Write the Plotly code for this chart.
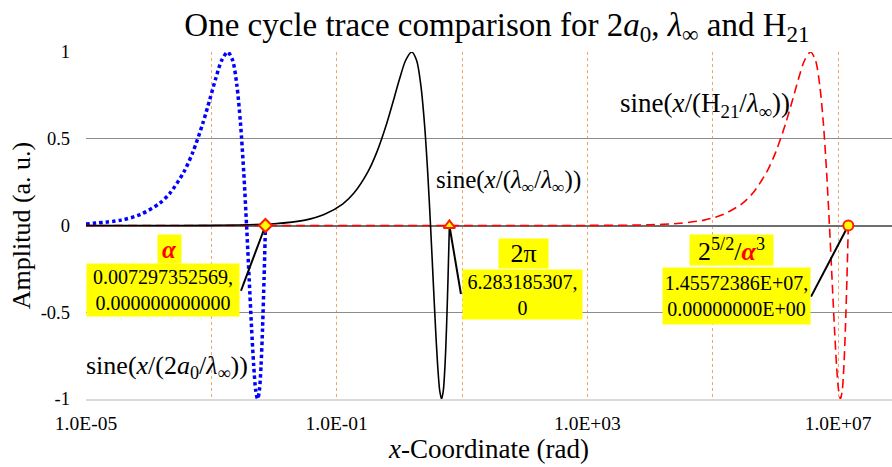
import math
import plotly.graph_objects as go

# ---------------- data ----------------
# blue dotted: sine(x/(2a0/λ∞)), one cycle ending at alpha
blue_x = [1.0e-5, 3.65e-5, 7.30e-5, 1.46e-4, 2.19e-4, 3.65e-4, 5.11e-4, 7.30e-4,
          9.49e-4, 1.168e-3, 1.459e-3, 1.824e-3, 2.189e-3, 2.554e-3, 2.919e-3,
          3.284e-3, 3.649e-3, 4.014e-3, 4.378e-3, 4.743e-3, 5.108e-3, 5.473e-3,
          5.838e-3, 6.203e-3, 6.568e-3, 6.932e-3, 7.297e-3]
blue_y = [0.009, 0.031, 0.063, 0.125, 0.187, 0.309, 0.426, 0.588, 0.729, 0.844,
          0.951, 1.0, 0.951, 0.809, 0.588, 0.309, 0.0, -0.309, -0.588, -0.809,
          -0.951, -1.0, -0.951, -0.809, -0.588, -0.309, 0.0]

# black solid: sine(x/(λ∞/λ∞)), one cycle ending at 2π
black_x = [1.0e-5, 1.0e-4, 1.0e-3, 1.0e-2, 0.0314, 0.0628, 0.1257, 0.1885, 0.3142,
           0.4398, 0.6283, 0.8168, 1.0053, 1.2566, 1.5708, 1.885, 2.1991, 2.5133,
           2.8274, 3.1416, 3.4558, 3.7699, 4.0841, 4.3982, 4.7124, 5.0265, 5.3407,
           5.6549, 5.969, 6.2832]
black_y = [0.0, 0.0001, 0.001, 0.01, 0.031, 0.063, 0.125, 0.187, 0.309, 0.426,
           0.588, 0.729, 0.844, 0.951, 1.0, 0.951, 0.809, 0.588, 0.309, 0.0,
           -0.309, -0.588, -0.809, -0.951, -1.0, -0.951, -0.809, -0.588, -0.309, 0.0]

# red dashed: sine(x/(H21/λ∞)), one cycle ending at 2^(5/2)/alpha^3
red_x = [1.0e-5, 1.0e1, 1.0e3, 1.0e4, 3.0e4, 72786, 145572, 291145, 436717, 727862,
         1019007, 1455724, 1892441, 2329158, 2911448, 3639310, 4367172, 5095034,
         5822895, 6550757, 7278619, 8006481, 8734343, 9462205, 10190067, 10917929,
         11645791, 12373653, 13101515, 13829377, 14557239]
red_y = [0.0, 0.0, 0.0004, 0.004, 0.013, 0.031, 0.063, 0.125, 0.187, 0.309, 0.426,
         0.588, 0.729, 0.844, 0.951, 1.0, 0.951, 0.809, 0.588, 0.309, 0.0, -0.309,
         -0.588, -0.809, -0.951, -1.0, -0.951, -0.809, -0.588, -0.309, 0.0]

# highlighted end points
point_x = [0.007297352569, 6.283185307, 1.45572386e7]
point_y = [0.0, 0.0, 0.0]

x_tickvals = [1e-5, 1e-1, 1e3, 1e7]
x_ticktext = ["1.0E-05", "1.0E-01", "1.0E+03", "1.0E+07"]
x_minor_vals = [1e-3, 1e1, 1e5]
y_tickvals = [-1, -0.5, 0, 0.5, 1]
y_ticktext = ["-1", "-0.5", "0", "0.5", "1"]

FONT = "Liberation Serif"
ORANGE = "#f0a868"

fig = go.Figure()

fig.add_trace(go.Scatter(x=blue_x, y=blue_y, mode="lines",
                         line=dict(color="#0000ff", width=3.5, dash="3.5px,3px", shape="spline", smoothing=0.8),
                         showlegend=False))
fig.add_trace(go.Scatter(x=red_x, y=red_y, mode="lines",
                         line=dict(color="#ff0000", width=1.6, dash="9px,5px", shape="spline", smoothing=0.8),
                         showlegend=False))
fig.add_trace(go.Scatter(x=black_x, y=black_y, mode="lines",
                         line=dict(color="#000000", width=1.6, shape="spline", smoothing=0.8),
                         showlegend=False))

# leader lines (text box -> point)
leaders = [
    (0.00297, -0.376, point_x[0]),
    (9.6, -0.395, point_x[1]),
    (3.7e6, -0.41, point_x[2]),
]
for (tx, ty, px) in leaders:
    fig.add_trace(go.Scatter(x=[tx, px], y=[ty, 0.0], mode="lines",
                             line=dict(color="#000000", width=2), showlegend=False,
                             hoverinfo="skip"))

symbols = ["diamond", "triangle-up", "circle"]
for px, py, sym in zip(point_x, point_y, symbols):
    fig.add_trace(go.Scatter(x=[px], y=[py], mode="markers",
                             marker=dict(symbol=sym, size=10, color="#ffff00",
                                         line=dict(color="#ff2000", width=2)),
                             showlegend=False))

def ann(xv, yv, text, size, bg=None, color="#000000", w=None, h=None):
    d = dict(x=math.log10(xv), y=yv, xref="x", yref="y", text=text, showarrow=False,
             font=dict(family=FONT, size=size, color=color), align="center",
             xanchor="center", yanchor="middle")
    if bg:
        d["bgcolor"] = bg
        d["borderpad"] = 0
    if w:
        d["width"] = w
    if h:
        d["height"] = h
    fig.add_annotation(**d)

YEL = "#ffff00"
ann(10 ** -3.66, -0.135, "<b><i>α</i></b>", 25, YEL, "#ff0000", 23, 28)
ann(10 ** -3.77, -0.373, "0.007297352569,<br>0.000000000000", 20, YEL, w=152, h=52)
ann(10 ** -3.70, -0.814, "sine(<i>x</i>/(2<i>a</i><sub>0</sub>/<i>λ</i><sub>∞</sub>))", 26)

ann(10 ** 1.973, -0.161, "2π", 26, YEL, w=49, h=29)
ann(10 ** 1.957, -0.398, "6.283185307,<br>0", 20, YEL, w=119, h=49)
ann(10 ** 1.734, 0.251, "sine(<i>x</i>/(<i>λ</i><sub>∞</sub>/<i>λ</i><sub>∞</sub>))", 25)

ann(10 ** 5.292, -0.141,
    "2<sup>5/2</sup>/<b><i><span style='color:#ff0000'>α</span></i></b><sup>3</sup>", 26, YEL, w=83, h=30)
ann(10 ** 5.379, -0.406, "1.45572386E+07,<br>0.00000000E+00", 20, YEL, w=147, h=56)
ann(10 ** 4.877, 0.695, "sine(<i>x</i>/(H<sub>21</sub>/<i>λ</i><sub>∞</sub>))", 27)

fig.update_layout(
    width=892, height=467,
    margin=dict(l=86, r=0, t=52, b=68),
    paper_bgcolor="#ffffff", plot_bgcolor="#ffffff",
    font=dict(family=FONT, color="#000000"),
    title=dict(text="One cycle trace comparison for 2<i>a</i><sub>0</sub>, <i>λ</i><sub>∞</sub> and H<sub>21</sub>",
               x=497 / 892, xanchor="center", y=1 - 24 / 467, yanchor="middle", yref="container",
               font=dict(family=FONT, size=33, color="#000000")),
    xaxis=dict(type="log", range=[-5, 7.86],
               tickvals=x_tickvals, ticktext=x_ticktext,
               showgrid=True, gridcolor=ORANGE, griddash="dot", gridwidth=1,
               minor=dict(tickvals=x_minor_vals, showgrid=True, gridcolor=ORANGE,
                          griddash="dot", gridwidth=1, ticks=""),
               showline=True, linecolor="#d9d9d9", linewidth=1.5,
               ticks="", ticklabelstandoff=6,
               tickfont=dict(family=FONT, size=19.5),
               title=dict(text="<i>x</i>-Coordinate (rad)", font=dict(family=FONT, size=27), standoff=0),
               automargin=False,
               zeroline=False),
    yaxis=dict(range=[-1, 1], tickvals=y_tickvals, ticktext=y_ticktext,
               showgrid=True, gridcolor="#8c8c8c", gridwidth=1.2,
               zeroline=True, zerolinecolor="#6e6e6e", zerolinewidth=1.5,
               ticks="", ticklabelstandoff=15,
               tickfont=dict(family=FONT, size=18.5),
               title=dict(text="Amplitud (a. u.)", font=dict(family=FONT, size=26), standoff=2),
               automargin=False),
)

fig.write_html("out.html", config={"displayModeBar": False},
               post_script="document.body.style.margin='0';")
